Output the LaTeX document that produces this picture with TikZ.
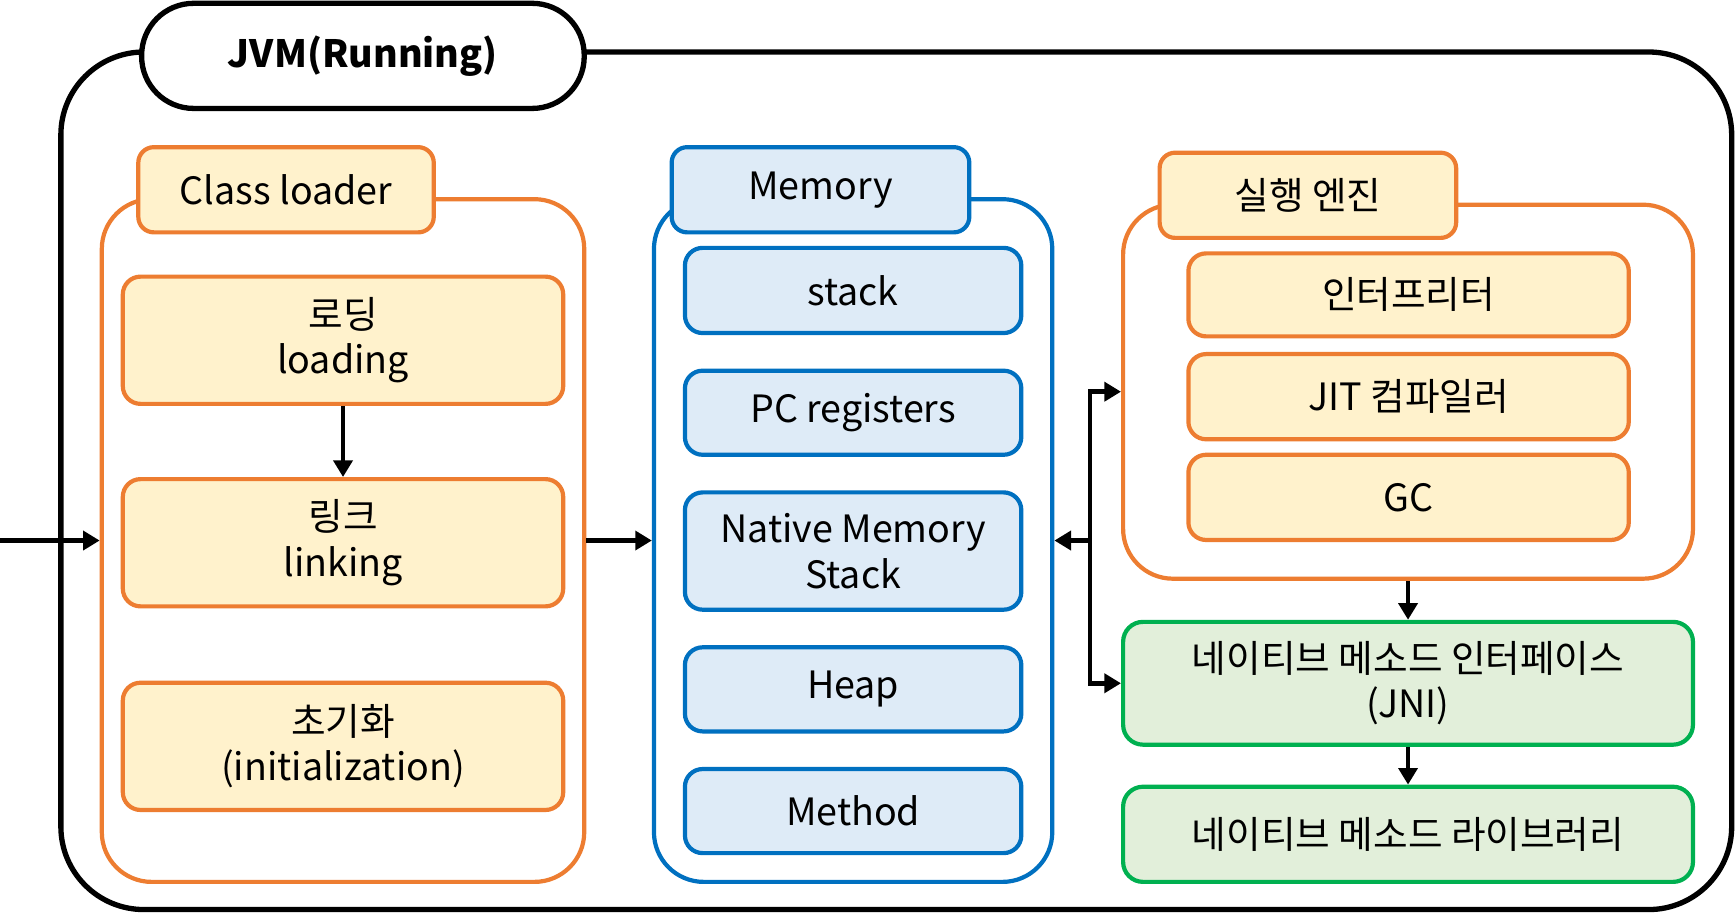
\documentclass[tikz,border=0pt]{standalone}
\usepackage{fontspec}
\setmainfont{Noto Sans CJK KR}
\usetikzlibrary{arrows.meta}
\definecolor{orng}{HTML}{ED7D31}
\definecolor{ylw}{HTML}{FFF2CC}
\definecolor{blu}{HTML}{0070C0}
\definecolor{lblu}{HTML}{DEEBF7}
\definecolor{grn}{HTML}{00B050}
\definecolor{lgrn}{HTML}{E2EFDA}
\tikzset{
  base/.style={rectangle, inner sep=0pt, align=center, font=\fontsize{34}{41}\selectfont},
  grp/.style={base, line width=3.8pt, rounded corners=45pt},
  ogrp/.style={grp, draw=orng, fill=white},
  bgrp/.style={grp, draw=blu, fill=white},
  tabo/.style={base, draw=orng, fill=ylw, line width=3.8pt, rounded corners=14pt},
  tabb/.style={base, draw=blu, fill=lblu, line width=3.8pt, rounded corners=14pt},
  obox/.style={base, draw=orng, fill=ylw, line width=3.8pt, rounded corners=16pt, minimum width=398pt},
  bbox/.style={base, draw=blu, fill=lblu, line width=3.8pt, rounded corners=16pt, minimum width=304pt},
  gbox/.style={base, draw=grn, fill=lgrn, line width=3.8pt, rounded corners=18pt, minimum width=515pt},
  arr/.style={line width=4.3pt, -{Triangle[length=15pt,width=17pt]}},
}
\begin{document}
\begin{tikzpicture}[x=1pt,y=-1pt]
\useasboundingbox (0,0) rectangle (1568,826);
% outer JVM
\node[base, draw=black, line width=4.8pt, rounded corners=75pt, minimum width=1510pt, minimum height=775pt] (jvm) at (810,434.5) {};
\node[base, draw=black, fill=white, line width=4.8pt, rounded corners=47pt, minimum width=400pt, minimum height=95pt, font=\fontsize{34}{41}\selectfont\bfseries] (title) at (328,50.5) {JVM(Running)};
% class loader
\node[ogrp, minimum width=436pt, minimum height=617pt] (cl) at (310,488.5) {};
\node[tabo, minimum width=267pt, minimum height=77pt] (cltab) at (258.5,171.5) {Class loader};
\node[obox, minimum height=115pt] (load) at (310,307.5) {로딩\\loading};
\node[obox, minimum height=115pt] (link) at (310,490.5) {링크\\linking};
\node[obox, minimum height=115pt] (init) at (310,674.5) {초기화\\(initialization)};
% memory
\node[bgrp, minimum width=360pt, minimum height=617pt] (mem) at (771,488.5) {};
\node[tabb, minimum width=269pt, minimum height=77pt] (memtab) at (741.5,171.5) {Memory};
\node[bbox, minimum height=77pt] (stack) at (771,262.5) {stack};
\node[bbox, minimum height=76pt] (pc) at (771,373) {PC registers};
\node[bbox, minimum height=106pt] (native) at (771,498) {Native Memory\\Stack};
\node[bbox, minimum height=76pt] (heap) at (771,623) {Heap};
\node[bbox, minimum height=76pt] (method) at (771,733) {Method};
% execution engine
\node[ogrp, minimum width=515pt, minimum height=338pt] (ee) at (1272.5,354) {};
\node[tabo, minimum width=268pt, minimum height=77pt] (eetab) at (1182,176.5) {실행 엔진};
\node[obox, minimum height=75pt] (interp) at (1273,266.5) {인터프리터};
\node[obox, minimum height=77pt] (jit) at (1273,358.5) {JIT 컴파일러};
\node[obox, minimum height=77pt] (gc) at (1273,449.5) {GC};
% JNI and library
\node[gbox, minimum height=111pt] (jni) at (1272.5,617.5) {네이티브 메소드 인터페이스\\(JNI)};
\node[gbox, minimum height=86pt] (lib) at (1272.5,754) {네이티브 메소드 라이브러리};
% connectors
\coordinate (start) at (0,488.5);
\coordinate (j) at (985,488.5);
\draw[arr] (start) -- (cl.west);
\draw[arr] (cl.east) -- (mem.west);
\draw[arr] (load.south) -- (link.north);
\draw[arr] (j) -- (mem.east);
\draw[arr] (j) |- (ee.west);
\draw[arr] (j) |- (jni.west);
\draw[arr] (ee.south -| jni.north) -- (jni.north);
\draw[arr] (jni.south) -- (lib.north);
\end{tikzpicture}
\end{document}
